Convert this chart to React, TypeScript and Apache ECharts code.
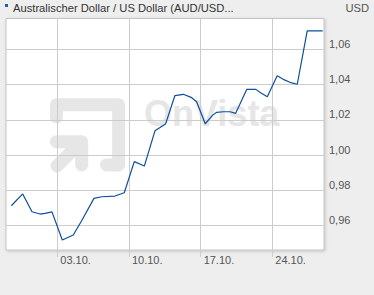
import React, { useEffect, useRef } from "react";
import * as echarts from "echarts";

// Days relative to 03.10.
const dayOffsets = [
  -4.49, -3.38, -2.47, -1.69, -1.2, -0.52, 0.49, 1.56, 2.38, 3.58, 4.34, 5.64,
  6.54, 7.52, 8.5, 9.54, 10.57, 11.49, 12.31, 13.13, 13.61, 14.45, 15.18, 15.57,
  16.21, 16.87, 17.42, 18.5, 19.4, 19.86, 20.51, 21.48, 22.07, 22.72, 23.44,
  24.41, 25.92,
];
const rates = [
  0.9713, 0.978, 0.9679, 0.9666, 0.967, 0.9678, 0.9519, 0.9547, 0.9628, 0.9755,
  0.9764, 0.9768, 0.9787, 0.9963, 0.9938, 1.0138, 1.0176, 1.0338, 1.0345,
  1.0326, 1.0303, 1.0178, 1.0227, 1.0243, 1.0246, 1.0246, 1.0237, 1.0373,
  1.0373, 1.0354, 1.0331, 1.045, 1.043, 1.0413, 1.0402, 1.0705, 1.0705,
];
const xTickDays = [0, 7, 14, 21];
const xTickLabels = ["03.10.", "10.10.", "17.10.", "24.10."];
const yTicks = [0.96, 0.98, 1.0, 1.02, 1.04, 1.06];

const titleText = "Australischer Dollar / US Dollar (AUD/USD...";
const currency = "USD";

const FONT = "'Liberation Sans', Arial, Helvetica, sans-serif";
const WM = "#e6e6e6";

export default function App() {
  const ref = useRef<HTMLDivElement>(null);
  useEffect(() => {
    if (!ref.current) return;
    const chart = echarts.init(ref.current, null, { renderer: "svg" });
    const data = dayOffsets.map((d, i) => [d, rates[i]]);
    chart.setOption({
      animation: false,
      backgroundColor: "#eeeeee",
      grid: { left: 6, right: 50, top: 18.5, bottom: 45, containLabel: false },
      graphic: [
        {
          type: "rect",
          z: -20,
          shape: { x: 6, y: 18.5, width: 318, height: 231.5 },
          style: {
            fill: "#ffffff",
            stroke: "#c4c4c4",
            lineWidth: 1,
            shadowBlur: 3,
            shadowOffsetX: 1,
            shadowOffsetY: 1,
            shadowColor: "rgba(0,0,0,0.18)",
          },
        },
        // watermark logo
        {
          type: "polyline",
          z: -10,
          shape: {
            points: [
              [56.5, 117],
              [56.5, 104.8],
              [118.6, 104.8],
              [118.6, 165],
              [106.5, 165],
            ],
          },
          style: { stroke: WM, lineWidth: 13, lineCap: "round", lineJoin: "round", fill: null },
        },
        {
          type: "polyline",
          z: -10,
          shape: {
            points: [
              [56.5, 141.7],
              [81.7, 141.7],
              [81.7, 165],
            ],
          },
          style: { stroke: WM, lineWidth: 13, lineCap: "round", lineJoin: "round", fill: null },
        },
        {
          type: "line",
          z: -10,
          shape: { x1: 57, y1: 166, x2: 79, y2: 144 },
          style: { stroke: WM, lineWidth: 13, lineCap: "round" },
        },
        {
          type: "text",
          z: -10,
          x: 144,
          y: 131,
          style: {
            text: "OnVista",
            font: "bold 36px " + FONT,
            fill: WM,
            verticalAlign: "bottom",
          },
        },
        // header
        {
          type: "rect",
          shape: { x: 5, y: 4, width: 3, height: 3 },
          style: { fill: "#1f5fae" },
        },
        {
          type: "text",
          x: 13,
          y: 7.5,
          style: {
            text: titleText,
            font: "11.2px " + FONT,
            fill: "#333333",
            verticalAlign: "middle",
          },
        },
        {
          type: "text",
          x: 369,
          y: 7.5,
          style: {
            text: currency,
            font: "11.2px " + FONT,
            fill: "#555555",
            align: "right",
            verticalAlign: "middle",
          },
        },
      ],
      xAxis: {
        type: "value",
        min: -5.01,
        max: 26.05,
        axisLine: { show: false },
        axisTick: {
          show: true,
          length: 7,
          customValues: xTickDays,
          lineStyle: { color: "#cccccc" },
        },
        splitLine: { show: true, lineStyle: { color: "#cccccc", width: 1 } },
        axisLabel: {
          customValues: xTickDays,
          formatter: (v: number) => xTickLabels[xTickDays.indexOf(Math.round(v))] ?? "",
          align: "left",
          padding: [0, 0, 0, 3],
          margin: 4,
          color: "#555555",
          fontSize: 11,
          fontFamily: FONT,
        },
      },
      yAxis: {
        type: "value",
        position: "right",
        min: 0.9462,
        max: 1.0775,
        axisLine: { show: false },
        axisTick: { show: false, customValues: yTicks },
        splitLine: { show: true, lineStyle: { color: "#cccccc", width: 1 } },
        axisLabel: {
          customValues: yTicks,
          formatter: (v: number) => v.toFixed(2).replace(".", ","),
          margin: 5,
          verticalAlign: "bottom",
          color: "#555555",
          fontSize: 11,
          fontFamily: FONT,
        },
      },
      series: [
        {
          type: "line",
          data,
          symbol: "none",
          z: 5,
          lineStyle: { color: "#0c4f9c", width: 1.2 },
        },
      ],
    });
    return () => chart.dispose();
  }, []);
  return (
    <div
      ref={ref}
      style={{ position: "fixed", left: 0, top: 0, width: 374, height: 295 }}
    />
  );
}
